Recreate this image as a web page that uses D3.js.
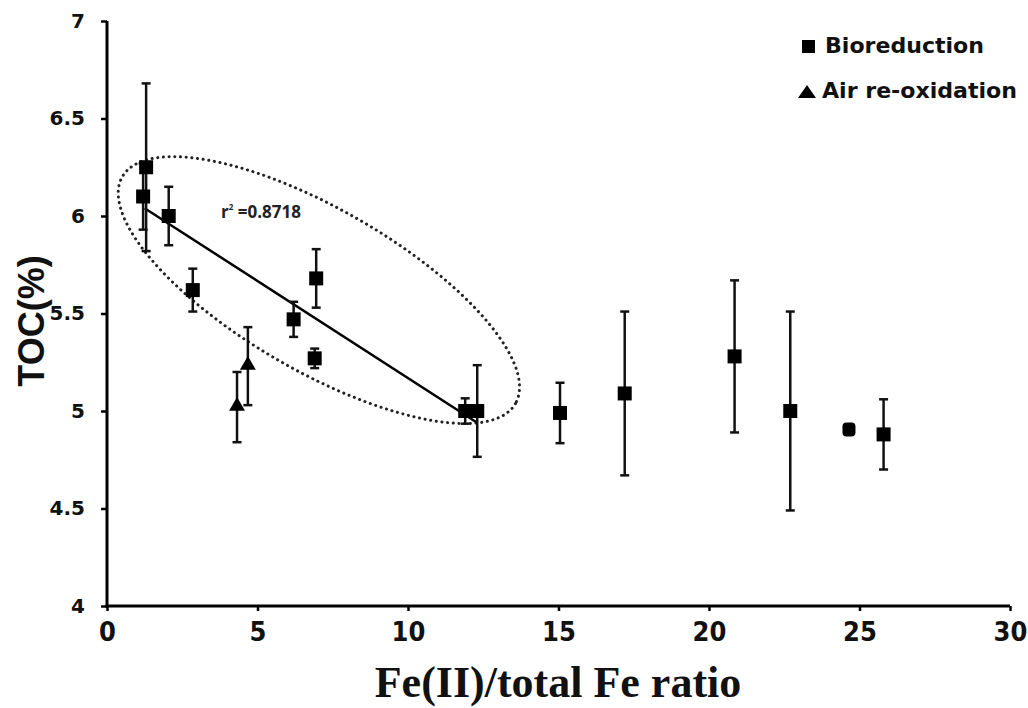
<!DOCTYPE html>
<html>
<head>
<meta charset="utf-8">
<script src="https://cdn.jsdelivr.net/npm/d3@7"></script>
<style>
  html, body { margin: 0; padding: 0; background: #fff; }
  svg { display: block; }
</style>
</head>
<body>
<svg id="chart" width="1028" height="708"></svg>
<script>
// ---------------- data ----------------
const seriesNames = ["Bioreduction", "Air re-oxidation"];

const bioX   = [1.2, 1.3, 2.05, 2.85, 6.2, 6.95, 6.9, 11.9, 12.3, 15.05, 17.2, 20.85, 22.7, 25.8];
const bioY   = [6.10, 6.25, 6.00, 5.62, 5.47, 5.68, 5.27, 5.00, 5.00, 4.99, 5.09, 5.28, 5.00, 4.88];
const bioErr = [0.17, 0.43, 0.15, 0.11, 0.09, 0.15, 0.05, 0.065, 0.235, 0.155, 0.42, 0.39, 0.51, 0.18];

// one bioreduction point drawn without error bar (rounded marker)
const bioNoErrX = [24.65];
const bioNoErrY = [4.905];

const airX   = [4.32, 4.68];
const airY   = [5.02, 5.23];
const airErr = [0.18, 0.20];

// linear fit
const fitX = [1.25, 12.3];
const fitY = [6.04, 4.94];
const fitLabel = "0.8718";

// dotted ellipse (data units): centre and two semi-axis vectors
const ellCenter = [7.04, 5.62];
const ellAxisA  = [6.53, -0.582];
const ellAxisB  = [-1.345, -0.36];

const xTicks = [0, 5, 10, 15, 20, 25, 30];
const yTicks = [4, 4.5, 5, 5.5, 6, 6.5, 7];
const xTitle = "Fe(II)/total Fe ratio";
const yTitle = "TOC(%)";

// ---------------- drawing ----------------
const svg = d3.select("#chart");
const x = d3.scaleLinear().domain([0, 30]).range([107, 1010]);
const y = d3.scaleLinear().domain([4, 7]).range([606, 21]);

// axes
const yAxis = d3.axisLeft(y).tickValues(yTicks).tickFormat(d => String(d)).tickSize(6).tickPadding(16);
const gy = svg.append("g").attr("transform", `translate(${x(0)},0)`).call(yAxis);
gy.select(".domain").attr("stroke", "#000").attr("stroke-width", 3).attr("d", `M0,${y(7)}V${y(4)+1.5}`);
gy.selectAll(".tick line").attr("stroke", "#000").attr("stroke-width", 2.5);
gy.selectAll(".tick text")
  .attr("font-family", "'DejaVu Sans', Verdana, sans-serif")
  .attr("font-weight", "bold").attr("font-size", 20).attr("fill", "#111");

const xAxis = d3.axisBottom(x).tickValues(xTicks).tickFormat(d => String(d)).tickSize(5).tickPadding(11);
const gx = svg.append("g").attr("transform", `translate(0,${y(4)})`).call(xAxis);
gx.select(".domain").attr("stroke", "#000").attr("stroke-width", 3).attr("d", `M${x(0)-1.5},0H${x(30)}`);
gx.selectAll(".tick line").attr("stroke", "#000").attr("stroke-width", 2.5);
gx.selectAll(".tick text")
  .attr("font-family", "'Liberation Sans Narrow', 'DejaVu Sans Condensed', sans-serif")
  .attr("font-weight", "bold")
  .attr("font-size", 27).attr("fill", "#111");

// axis titles
svg.append("text")
  .attr("x", 558).attr("y", 697)
  .attr("text-anchor", "middle")
  .attr("font-family", "'Liberation Serif', 'Times New Roman', serif")
  .attr("font-weight", "bold").attr("font-size", 44).attr("fill", "#111")
  .text(xTitle);

svg.append("text")
  .attr("transform", "translate(44,321) rotate(-90)")
  .attr("text-anchor", "middle")
  .attr("font-family", "'Liberation Sans', Arial, sans-serif")
  .attr("font-weight", "bold").attr("font-size", 36).attr("fill", "#111")
  .text(yTitle);

// dotted ellipse
const ellPts = d3.range(0, 361, 2).map(deg => {
  const t = deg * Math.PI / 180;
  return [ellCenter[0] + ellAxisA[0]*Math.cos(t) + ellAxisB[0]*Math.sin(t),
          ellCenter[1] + ellAxisA[1]*Math.cos(t) + ellAxisB[1]*Math.sin(t)];
});
svg.append("path")
  .attr("d", d3.line().x(d => x(d[0])).y(d => y(d[1])).curve(d3.curveLinearClosed)(ellPts))
  .attr("fill", "none").attr("stroke", "#222").attr("stroke-width", 3)
  .attr("stroke-linecap", "round").attr("stroke-dasharray", "0.1 5.6");

// fit line
svg.append("path")
  .attr("d", d3.line().x(d => x(d[0])).y(d => y(d[1]))(fitX.map((v, i) => [v, fitY[i]])))
  .attr("stroke", "#000").attr("stroke-width", 2.5).attr("fill", "none");

// error bars
function errorBars(xs, ys, es) {
  const g = svg.append("g").attr("stroke", "#111").attr("stroke-width", 2.5);
  xs.forEach((xv, i) => {
    const cx = x(xv), top = y(ys[i] + es[i]), bot = y(ys[i] - es[i]);
    g.append("line").attr("x1", cx).attr("x2", cx).attr("y1", top).attr("y2", bot);
    g.append("line").attr("x1", cx - 4.5).attr("x2", cx + 4.5).attr("y1", top).attr("y2", top);
    g.append("line").attr("x1", cx - 4.5).attr("x2", cx + 4.5).attr("y1", bot).attr("y2", bot);
  });
}
errorBars(bioX, bioY, bioErr);
errorBars(airX, airY, airErr);

// markers
const sq = 14;
svg.append("g").selectAll("rect").data(bioX).join("rect")
  .attr("x", (d) => x(d) - sq/2).attr("y", (d, i) => y(bioY[i]) - sq/2)
  .attr("width", sq).attr("height", sq).attr("fill", "#000");

svg.append("g").selectAll("rect").data(bioNoErrX).join("rect")
  .attr("x", d => x(d) - 6.5).attr("y", (d, i) => y(bioNoErrY[i]) - 7)
  .attr("width", 13).attr("height", 14).attr("rx", 4).attr("fill", "#000");

const tri = d3.symbol().type(d3.symbolTriangle).size(110);
svg.append("g").selectAll("path").data(airX).join("path")
  .attr("d", tri)
  .attr("transform", (d, i) => `translate(${x(d)},${y(airY[i]) - 1})`)
  .attr("fill", "#000");

// r^2 label
const rt = svg.append("text")
  .attr("x", 221).attr("y", 218)
  .attr("font-family", "'Open Sans', 'Liberation Sans', sans-serif")
  .attr("font-weight", "bold").attr("font-size", 17).attr("fill", "#222");
rt.append("tspan").text("r");
rt.append("tspan").attr("font-size", 8).attr("dy", -8).text("2");
rt.append("tspan").attr("dy", 8).text(" =" + fitLabel);

// legend
const lg = svg.append("g");
lg.append("rect").attr("x", 802).attr("y", 40).attr("width", 13).attr("height", 13).attr("fill", "#000");
lg.append("path").attr("d", "M807,85 L816,98 L798,98 Z").attr("fill", "#000");
lg.selectAll("text").data(seriesNames).join("text")
  .attr("x", (d, i) => i === 0 ? 825 : 822)
  .attr("y", (d, i) => i === 0 ? 53 : 98)
  .attr("font-family", "'DejaVu Sans', Verdana, sans-serif")
  .attr("font-weight", "bold").attr("font-size", 21).attr("fill", "#111")
  .attr("textLength", (d, i) => i === 0 ? 159 : 195)
  .attr("lengthAdjust", "spacingAndGlyphs")
  .text(d => d);
</script>
</body>
</html>
